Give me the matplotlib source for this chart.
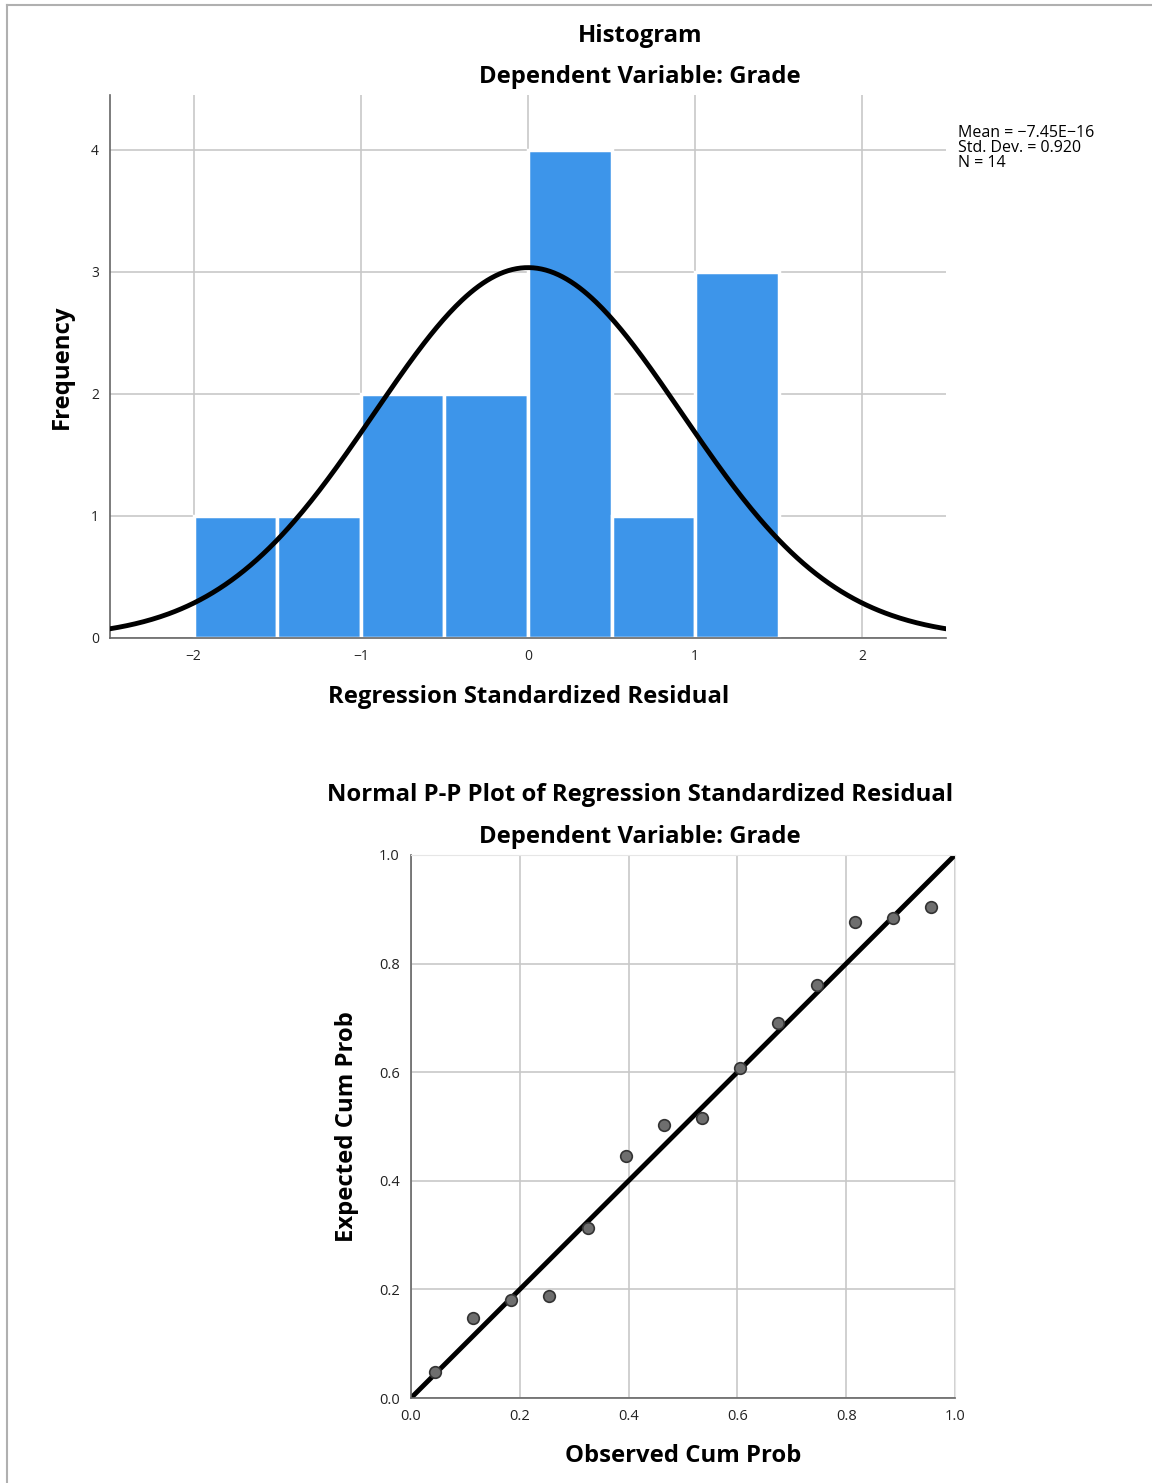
import numpy as np
import matplotlib.pyplot as plt
from matplotlib.lines import Line2D

# histogram data
bin_edges = [-2.0, -1.5, -1.0, -0.5, 0.0, 0.5, 1.0, 1.5]
counts = [1, 1, 2, 2, 4, 1, 3]
res_mean = -7.45e-16
res_sd = 0.920
n_obs = 14

# P-P plot data
observed_cum = [0.044, 0.114, 0.184, 0.254, 0.325, 0.395, 0.465,
                0.535, 0.605, 0.675, 0.746, 0.816, 0.886, 0.956]
expected_cum = [0.048, 0.147, 0.180, 0.188, 0.313, 0.446, 0.503,
                0.516, 0.608, 0.691, 0.761, 0.877, 0.884, 0.904]

plt.rcParams['font.family'] = ['Open Sans', 'DejaVu Sans']

W, H = 1152, 1483
fig = plt.figure(figsize=(W / 100, H / 100), dpi=100)

def fx(px):
    return px / W

def fy(py):
    return 1 - py / H

# outer frame lines (top and left)
fig.add_artist(Line2D([fx(7), 1], [fy(5), fy(5)], color="#b0b0b0", lw=1.5))
fig.add_artist(Line2D([fx(7), fx(7)], [fy(5), 0], color="#b0b0b0", lw=1.5))

grid_col = "#c8c8c8"
axis_col = "#666666"
title_fs = 17.2

# ---- histogram ----
ax1 = fig.add_axes([fx(110), fy(638), fx(946) - fx(110), fy(95) - fy(638)])
lefts = bin_edges[:-1]
widths = np.diff(bin_edges)
ax1.bar(lefts, counts, width=widths, align="edge", color="#3d95ea",
        edgecolor="white", linewidth=2.5, zorder=2)
xs = np.linspace(-2.5, 2.5, 400)
pdf = np.exp(-0.5 * ((xs - res_mean) / res_sd) ** 2) / (res_sd * np.sqrt(2 * np.pi))
ax1.plot(xs, pdf * n_obs * 0.5, color="black", lw=3.5, zorder=3)
ax1.set_xlim(-2.5, 2.5)
ax1.set_ylim(0, 4.45)
ax1.set_xticks([-2, -1, 0, 1, 2])
ax1.set_xticklabels(["\u22122", "\u22121", "0", "1", "2"])
ax1.set_yticks([0, 1, 2, 3, 4])
ax1.grid(True, color=grid_col, lw=1.2, zorder=0)
ax1.set_axisbelow(True)
ax1.tick_params(length=0, labelsize=10, pad=8, colors="#222222")
for s in ["top", "right"]:
    ax1.spines[s].set_visible(False)
for s in ["left", "bottom"]:
    ax1.spines[s].set_color(axis_col)
    ax1.spines[s].set_linewidth(1.2)

fig.text(fx(640), fy(36), "Histogram", ha="center", va="center",
         fontsize=title_fs, fontweight="bold")
fig.text(fx(640), fy(77), "Dependent Variable: Grade", ha="center", va="center",
         fontsize=title_fs, fontweight="bold")
fig.text(fx(529), fy(697), "Regression Standardized Residual", ha="center",
         va="center", fontsize=title_fs, fontweight="bold")
fig.text(fx(62), fy(367), "Frequency", ha="center", va="center",
         fontsize=title_fs, fontweight="bold", rotation=90)
fig.text(fx(958), fy(148),
         "Mean = \u22127.45E\u221216\nStd. Dev. = 0.920\nN = 14",
         ha="left", va="center", fontsize=11.5, linespacing=0.9)

# ---- P-P plot ----
ax2 = fig.add_axes([fx(411), fy(1398), fx(955) - fx(411), fy(855) - fy(1398)])
ax2.plot([0, 1], [0, 1], color="black", lw=3.5, zorder=2)
ax2.scatter(observed_cum, expected_cum, s=70, color="#6e6e6e",
            edgecolor="#333333", linewidth=1.2, zorder=3)
ax2.set_xlim(0, 1)
ax2.set_ylim(0, 1)
ticks = [0.0, 0.2, 0.4, 0.6, 0.8, 1.0]
ax2.set_xticks(ticks)
ax2.set_yticks(ticks)
ax2.set_xticklabels(["%.1f" % t for t in ticks])
ax2.set_yticklabels(["%.1f" % t for t in ticks])
ax2.grid(True, color=grid_col, lw=1.2, zorder=0)
ax2.set_axisbelow(True)
ax2.tick_params(length=0, labelsize=10.5, pad=8, colors="#222222")
for s in ["top", "right"]:
    ax2.spines[s].set_color("#e6e6e6")
for s in ["left", "bottom"]:
    ax2.spines[s].set_color(axis_col)
    ax2.spines[s].set_linewidth(1.2)

fig.text(fx(640), fy(795), "Normal P-P Plot of Regression Standardized Residual",
         ha="center", va="center", fontsize=title_fs, fontweight="bold")
fig.text(fx(640), fy(837), "Dependent Variable: Grade", ha="center", va="center",
         fontsize=title_fs, fontweight="bold")
fig.text(fx(683), fy(1456), "Observed Cum Prob", ha="center", va="center",
         fontsize=title_fs, fontweight="bold")
fig.text(fx(347), fy(1127), "Expected Cum Prob", ha="center", va="center",
         fontsize=title_fs, fontweight="bold", rotation=90)

fig.savefig("out.png", dpi=100)
